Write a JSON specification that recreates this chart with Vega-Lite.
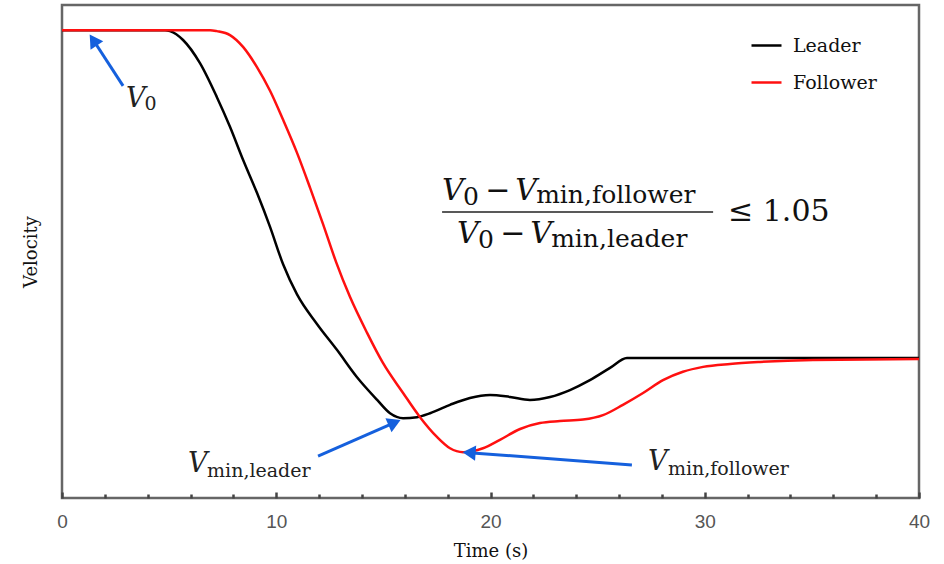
{
  "$schema": "https://vega.github.io/schema/vega-lite/v6.json",
  "width": 857,
  "height": 493,
  "autosize": {"type": "none"},
  "padding": {"left": 62, "top": 5, "right": 25, "bottom": 66},
  "background": "white",
  "config": {
    "view": {"stroke": "#666666", "strokeWidth": 2.5},
    "font": "DejaVu Serif"
  },
  "datasets": {
    "curves": [
      {"series": "Leader", "t": 0, "v": 94.9},
      {"series": "Leader", "t": 4.81, "v": 94.9},
      {"series": "Leader", "t": 5.04, "v": 94.7},
      {"series": "Leader", "t": 5.65, "v": 92.9},
      {"series": "Leader", "t": 6.44, "v": 88.2},
      {"series": "Leader", "t": 7.23, "v": 81.3},
      {"series": "Leader", "t": 7.84, "v": 75.3},
      {"series": "Leader", "t": 8.45, "v": 68.6},
      {"series": "Leader", "t": 9.10, "v": 61.9},
      {"series": "Leader", "t": 9.71, "v": 55.0},
      {"series": "Leader", "t": 10.32, "v": 47.4},
      {"series": "Leader", "t": 10.97, "v": 41.3},
      {"series": "Leader", "t": 11.90, "v": 35.3},
      {"series": "Leader", "t": 12.84, "v": 30.0},
      {"series": "Leader", "t": 13.77, "v": 24.5},
      {"series": "Leader", "t": 14.71, "v": 19.9},
      {"series": "Leader", "t": 15.31, "v": 17.2},
      {"series": "Leader", "t": 15.92, "v": 16.2},
      {"series": "Leader", "t": 16.57, "v": 16.4},
      {"series": "Leader", "t": 17.18, "v": 17.2},
      {"series": "Leader", "t": 18.11, "v": 18.9},
      {"series": "Leader", "t": 19.04, "v": 20.3},
      {"series": "Leader", "t": 19.98, "v": 20.9},
      {"series": "Leader", "t": 20.91, "v": 20.5},
      {"series": "Leader", "t": 21.84, "v": 19.9},
      {"series": "Leader", "t": 22.78, "v": 20.5},
      {"series": "Leader", "t": 23.71, "v": 21.9},
      {"series": "Leader", "t": 24.64, "v": 23.9},
      {"series": "Leader", "t": 25.58, "v": 26.4},
      {"series": "Leader", "t": 26.37, "v": 28.4},
      {"series": "Leader", "t": 40, "v": 28.4},
      {"series": "Follower", "t": 0, "v": 94.9},
      {"series": "Follower", "t": 6.91, "v": 94.9},
      {"series": "Follower", "t": 7.23, "v": 94.7},
      {"series": "Follower", "t": 7.84, "v": 93.9},
      {"series": "Follower", "t": 8.45, "v": 91.5},
      {"series": "Follower", "t": 9.10, "v": 87.4},
      {"series": "Follower", "t": 9.71, "v": 82.6},
      {"series": "Follower", "t": 10.32, "v": 76.7},
      {"series": "Follower", "t": 10.97, "v": 70.0},
      {"series": "Follower", "t": 11.58, "v": 62.9},
      {"series": "Follower", "t": 12.18, "v": 55.6},
      {"series": "Follower", "t": 12.79, "v": 47.9},
      {"series": "Follower", "t": 13.44, "v": 40.8},
      {"series": "Follower", "t": 14.24, "v": 33.5},
      {"series": "Follower", "t": 14.98, "v": 27.4},
      {"series": "Follower", "t": 15.92, "v": 21.3},
      {"series": "Follower", "t": 16.71, "v": 16.4},
      {"series": "Follower", "t": 17.50, "v": 12.4},
      {"series": "Follower", "t": 18.11, "v": 10.1},
      {"series": "Follower", "t": 18.72, "v": 9.3},
      {"series": "Follower", "t": 19.65, "v": 10.1},
      {"series": "Follower", "t": 20.44, "v": 11.8},
      {"series": "Follower", "t": 21.38, "v": 14.0},
      {"series": "Follower", "t": 22.31, "v": 15.2},
      {"series": "Follower", "t": 23.24, "v": 15.6},
      {"series": "Follower", "t": 24.32, "v": 15.9},
      {"series": "Follower", "t": 25.25, "v": 16.8},
      {"series": "Follower", "t": 26.18, "v": 18.9},
      {"series": "Follower", "t": 27.12, "v": 21.3},
      {"series": "Follower", "t": 28.05, "v": 23.9},
      {"series": "Follower", "t": 28.98, "v": 25.6},
      {"series": "Follower", "t": 29.92, "v": 26.6},
      {"series": "Follower", "t": 31.18, "v": 27.2},
      {"series": "Follower", "t": 32.58, "v": 27.6},
      {"series": "Follower", "t": 35.05, "v": 28.0},
      {"series": "Follower", "t": 40, "v": 28.2}
    ],
    "arrows": [
      {"name": "V0", "t": 2.85, "v": 83.6, "t2": 1.46, "v2": 92.9, "ang": 326.6},
      {"name": "leader", "t": 11.95, "v": 8.5, "t2": 15.52, "v2": 15.3, "ang": 66.3},
      {"name": "follower", "t": 26.6, "v": 6.7, "t2": 19.0, "v2": 9.2, "ang": 274.4}
    ],
    "texts": [
      {"grp": "labItal", "txt": "V", "t": 2.99, "v": 79.3},
      {"grp": "labSub", "txt": "0", "t": 3.85, "v": 78.7},
      {"grp": "labItal", "txt": "V", "t": 5.88, "v": 5.27},
      {"grp": "labSub", "txt": "min,leader", "t": 6.77, "v": 4.26},
      {"grp": "labItal", "txt": "V", "t": 27.35, "v": 5.7},
      {"grp": "labSub", "txt": "min,follower", "t": 28.28, "v": 4.67},
      {"grp": "fItal", "txt": "V", "t": 17.74, "v": 60.45},
      {"grp": "fSub", "txt": "0", "t": 18.72, "v": 59.43},
      {"grp": "fRom", "txt": "−", "t": 19.75, "v": 60.45},
      {"grp": "fItal", "txt": "V", "t": 21.15, "v": 60.45},
      {"grp": "fSub", "txt": "min,follower", "t": 22.13, "v": 59.8},
      {"grp": "fItal", "txt": "V", "t": 18.44, "v": 51.72},
      {"grp": "fSub", "txt": "0", "t": 19.42, "v": 50.71},
      {"grp": "fRom", "txt": "−", "t": 20.45, "v": 51.72},
      {"grp": "fItal", "txt": "V", "t": 21.85, "v": 51.72},
      {"grp": "fSub", "txt": "min,leader", "t": 22.83, "v": 51.0},
      {"grp": "fRom", "txt": "≤ 1.05", "t": 31.09, "v": 56.2}
    ],
    "bar": [
      {"t": 17.74, "t2": 30.39, "v": 58.0}
    ]
  },
  "layer": [
    {
      "data": {"name": "curves"},
      "mark": {"type": "line", "interpolate": "monotone", "strokeWidth": 2.5},
      "encoding": {
        "x": {
          "field": "t", "type": "quantitative",
          "scale": {"domain": [0, 40], "nice": false, "zero": false},
          "axis": {
            "title": "Time (s)",
            "titleFont": "DejaVu Serif", "titleFontSize": 18, "titleFontWeight": "normal",
            "titleColor": "#111111", "titlePadding": 11,
            "values": [0, 2, 4, 6, 8, 10, 12, 14, 16, 18, 20, 22, 24, 26, 28, 30, 32, 34, 36, 38, 40],
            "labelExpr": "datum.value % 10 === 0 ? datum.label : ''",
            "labelFont": "Liberation Sans", "labelFontSize": 19, "labelColor": "#555555",
            "labelPadding": 20, "labelFlush": false,
            "tickColor": "#444444", "tickWidth": 2.5,
            "tickSize": {"condition": {"test": "datum.value % 10 === 0", "value": -6}, "value": -4},
            "domain": false, "grid": false
          }
        },
        "y": {
          "field": "v", "type": "quantitative",
          "scale": {"domain": [0, 100], "nice": false, "zero": false},
          "axis": {
            "title": "Velocity",
            "titleFont": "DejaVu Serif", "titleFontSize": 18, "titleFontWeight": "normal",
            "titleColor": "#111111", "titlePadding": 22,
            "labels": false, "ticks": false, "domain": false, "grid": false
          }
        },
        "color": {
          "field": "series", "type": "nominal",
          "scale": {"domain": ["Leader", "Follower"], "range": ["#000000", "#ff1010"]},
          "legend": {
            "title": null, "orient": "none", "legendX": 688, "legendY": 24,
            "symbolType": "stroke", "symbolSize": 900, "symbolStrokeWidth": 2.5,
            "labelFont": "DejaVu Serif", "labelFontSize": 19, "labelColor": "#111111",
            "labelOffset": 10, "rowPadding": 10
          }
        }
      }
    },
    {
      "data": {"name": "arrows"},
      "mark": {"type": "rule", "color": "#1560dd", "strokeWidth": 3},
      "encoding": {
        "x": {"field": "t", "type": "quantitative"},
        "y": {"field": "v", "type": "quantitative"},
        "x2": {"field": "t2"},
        "y2": {"field": "v2"}
      }
    },
    {
      "data": {"name": "arrows"},
      "mark": {"type": "point", "shape": "triangle-up", "filled": true, "color": "#1560dd", "opacity": 1, "size": 230},
      "encoding": {
        "x": {"field": "t2", "type": "quantitative"},
        "y": {"field": "v2", "type": "quantitative"},
        "angle": {"field": "ang", "type": "quantitative", "scale": null}
      }
    },
    {
      "data": {"name": "bar"},
      "mark": {"type": "rule", "color": "#222222", "strokeWidth": 1.5},
      "encoding": {
        "x": {"field": "t", "type": "quantitative"},
        "x2": {"field": "t2"},
        "y": {"field": "v", "type": "quantitative"}
      }
    },
    {
      "data": {"name": "texts"},
      "transform": [{"filter": "datum.grp === 'labItal'"}],
      "mark": {"type": "text", "align": "left", "baseline": "alphabetic", "font": "DejaVu Serif", "fontStyle": "italic", "fontSize": 27, "color": "#222222"},
      "encoding": {
        "x": {"field": "t", "type": "quantitative"},
        "y": {"field": "v", "type": "quantitative"},
        "text": {"field": "txt"}
      }
    },
    {
      "data": {"name": "texts"},
      "transform": [{"filter": "datum.grp === 'labSub'"}],
      "mark": {"type": "text", "align": "left", "baseline": "alphabetic", "font": "DejaVu Serif", "fontSize": 19, "color": "#222222"},
      "encoding": {
        "x": {"field": "t", "type": "quantitative"},
        "y": {"field": "v", "type": "quantitative"},
        "text": {"field": "txt"}
      }
    },
    {
      "data": {"name": "texts"},
      "transform": [{"filter": "datum.grp === 'fItal'"}],
      "mark": {"type": "text", "align": "left", "baseline": "alphabetic", "font": "DejaVu Serif", "fontStyle": "italic", "fontSize": 30, "color": "#111111"},
      "encoding": {
        "x": {"field": "t", "type": "quantitative"},
        "y": {"field": "v", "type": "quantitative"},
        "text": {"field": "txt"}
      }
    },
    {
      "data": {"name": "texts"},
      "transform": [{"filter": "datum.grp === 'fSub'"}],
      "mark": {"type": "text", "align": "left", "baseline": "alphabetic", "font": "DejaVu Serif", "fontSize": 25, "color": "#111111"},
      "encoding": {
        "x": {"field": "t", "type": "quantitative"},
        "y": {"field": "v", "type": "quantitative"},
        "text": {"field": "txt"}
      }
    },
    {
      "data": {"name": "texts"},
      "transform": [{"filter": "datum.grp === 'fRom'"}],
      "mark": {"type": "text", "align": "left", "baseline": "alphabetic", "font": "DejaVu Serif", "fontSize": 30, "color": "#111111"},
      "encoding": {
        "x": {"field": "t", "type": "quantitative"},
        "y": {"field": "v", "type": "quantitative"},
        "text": {"field": "txt"}
      }
    }
  ]
}
